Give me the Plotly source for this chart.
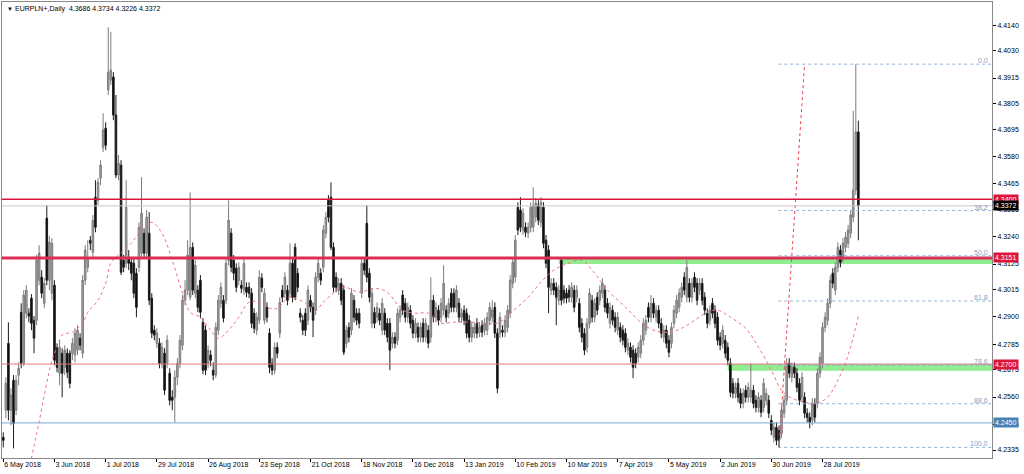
import plotly.graph_objects as go

# ---------------- data (EURPLN+, Daily) ----------------
opens = [4.2389,4.2504,4.2788,4.2504,4.2631,4.2504,4.2653,4.2920,4.2703,4.2916,
4.2916,4.2980,4.2886,4.2886,4.3056,4.3069,4.2958,4.3320,4.3056,4.3001,
4.3035,4.2771,4.2661,4.2746,4.2686,4.2746,4.2746,4.2746,4.2738,4.2759,
4.2810,4.2746,4.3056,4.3111,4.3226,4.3175,4.3409,4.3396,4.3490,4.3621,
4.3702,4.3864,4.3906,4.3919,4.3758,4.3503,4.3545,4.3141,4.3128,4.3150,
4.3132,4.3128,4.3086,4.3111,4.3171,4.3256,4.3171,4.3256,4.2980,4.2844,
4.2788,4.2788,4.2703,4.2746,4.2703,4.2661,4.2559,4.2559,4.2644,4.2703,
4.2780,4.2971,4.3014,4.2984,4.3196,4.3001,4.3014,4.3056,4.2877,4.2844,
4.2703,4.2738,4.2674,4.2653,4.2844,4.2958,4.2971,4.2971,4.3141,4.3256,
4.3141,4.3107,4.3056,4.3035,4.3014,4.3026,4.3026,4.3001,4.2916,4.2844,
4.2886,4.3065,4.2886,4.2941,4.2831,4.2703,4.2674,4.2771,4.2831,4.3014,
4.3001,4.3014,4.3001,4.3128,4.3196,4.3086,4.2916,4.2886,4.2916,4.2886,
4.2971,4.2941,4.2929,4.3069,4.3086,4.3111,4.3256,4.3396,4.3409,4.3196,
4.3069,4.3014,4.3043,4.3014,4.2788,4.2856,4.2844,4.2971,4.2916,4.2916,
4.3001,4.3128,4.3298,4.3086,4.2873,4.2920,4.2899,4.2916,4.2844,4.2916,
4.2873,4.2873,4.2788,4.2814,4.2801,4.2899,4.2993,4.2958,4.2899,4.2929,
4.2886,4.2831,4.2856,4.2814,4.2873,4.2814,4.2844,4.2814,4.2971,4.2899,
4.2929,4.2899,4.2929,4.2929,4.2916,4.3001,4.3001,4.2941,4.2958,4.2899,
4.2929,4.2916,4.2886,4.2814,4.2831,4.2873,4.2835,4.2865,4.2844,4.2844,
4.2886,4.2899,4.2941,4.2831,4.2831,4.2844,4.2835,4.2856,4.2916,4.3043,
4.3069,4.3366,4.3354,4.3269,4.3281,4.3256,4.3281,4.3281,4.3324,4.3375,
4.3302,4.3366,4.3226,4.3184,4.3014,4.3043,4.3026,4.2971,4.3141,4.3014,
4.3001,4.3014,4.2984,4.3014,4.2984,4.2958,4.2873,4.2831,4.2771,4.2873,
4.2971,4.2899,4.2984,4.2971,4.3001,4.3014,4.2958,4.2873,4.2929,4.2899,
4.2844,4.2856,4.2844,4.2831,4.2759,4.2771,4.2759,4.2746,4.2729,4.2746,
4.2801,4.2844,4.2941,4.2899,4.2958,4.2899,4.2929,4.2873,4.2814,4.2844,
4.2801,4.2788,4.2873,4.2916,4.2941,4.2984,4.3069,4.2984,4.3043,4.2984,
4.3069,4.3043,4.3014,4.3043,4.2984,4.2916,4.2886,4.2958,4.2929,4.2899,
4.2814,4.2788,4.2801,4.2771,4.2703,4.2618,4.2576,4.2618,4.2576,4.2533,
4.2589,4.2559,4.2559,4.2589,4.2546,4.2516,4.2546,4.2516,4.2546,4.2546,
4.2461,4.2389,4.2431,4.2419,4.2406,4.2491,4.2546,4.2703,4.2644,4.2686,
4.2661,4.2618,4.2559,4.2559,4.2491,4.2474,4.2461,4.2533,4.2533,4.2661,
4.2703,4.2856,4.2886,4.2958,4.3086,4.3014,4.3111,4.3184,4.3154,4.3196,
4.3213,4.3256,4.3324,4.3439,4.3686]

highs = [4.2410,4.2644,4.2877,4.2597,4.2653,4.2653,4.2707,4.2958,4.3014,4.3035,
4.2937,4.2997,4.2904,4.3163,4.3205,4.3099,4.3065,4.3375,4.3244,4.3235,
4.3056,4.2788,4.2801,4.2767,4.2780,4.2767,4.2759,4.2810,4.2852,4.2865,
4.2831,4.3078,4.3205,4.3226,4.3244,4.3333,4.3481,4.3490,4.3566,4.3766,
4.3727,4.4131,4.4110,4.3940,4.3843,4.3588,4.3566,4.3163,4.3481,4.3184,
4.3150,4.3150,4.3107,4.3302,4.3494,4.3277,4.3354,4.3345,4.3001,4.2865,
4.2852,4.2810,4.2792,4.2767,4.2823,4.2682,4.2589,4.2674,4.2725,4.2823,
4.2993,4.3056,4.3226,4.3430,4.3217,4.3141,4.3035,4.3078,4.2895,4.2865,
4.2780,4.2759,4.2707,4.2877,4.2993,4.3047,4.2993,4.3150,4.3396,4.3277,
4.3163,4.3128,4.3132,4.3056,4.3150,4.3047,4.3047,4.3022,4.2937,4.2920,
4.3099,4.3086,4.3022,4.2962,4.2852,4.2725,4.2792,4.2792,4.2984,4.3035,
4.3090,4.3035,4.3213,4.3150,4.3213,4.3107,4.2937,4.2908,4.2937,4.3035,
4.2993,4.2962,4.3090,4.3150,4.3107,4.3290,4.3345,4.3418,4.3472,4.3217,
4.3090,4.3065,4.3065,4.3035,4.2865,4.2877,4.3022,4.2993,4.2937,4.2937,
4.3150,4.3150,4.3375,4.3107,4.3022,4.2941,4.2962,4.2937,4.2980,4.2937,
4.2895,4.2895,4.2835,4.2835,4.2937,4.2950,4.3014,4.2980,4.2962,4.2950,
4.2908,4.2895,4.2877,4.2877,4.2895,4.2895,4.2865,4.3069,4.2993,4.2962,
4.2950,4.2980,4.3120,4.2950,4.2980,4.3022,4.3022,4.3035,4.2980,4.2937,
4.2950,4.2937,4.2908,4.2877,4.2877,4.2895,4.2877,4.2886,4.2895,4.2920,
4.2962,4.2971,4.2962,4.2852,4.2920,4.2865,4.2908,4.2950,4.3078,4.3154,
4.3248,4.3387,4.3409,4.3362,4.3302,4.3302,4.3387,4.3451,4.3405,4.3396,
4.3409,4.3387,4.3248,4.3205,4.3065,4.3065,4.3047,4.3035,4.3154,4.3035,
4.3022,4.3035,4.3047,4.3035,4.3035,4.2980,4.2895,4.2852,4.2895,4.3022,
4.2993,4.2980,4.3005,4.3035,4.3065,4.3035,4.2980,4.2962,4.2950,4.2920,
4.2920,4.2877,4.2865,4.2852,4.2810,4.2792,4.2780,4.2767,4.2792,4.2823,
4.2895,4.2908,4.2962,4.2993,4.2980,4.2950,4.2950,4.2895,4.2865,4.2865,
4.2823,4.2877,4.2950,4.2993,4.3022,4.3047,4.3090,4.3141,4.3065,4.3065,
4.3090,4.3065,4.3065,4.3065,4.3005,4.2937,4.2950,4.2980,4.2950,4.2920,
4.2835,4.2865,4.2823,4.2792,4.2725,4.2640,4.2622,4.2640,4.2597,4.2597,
4.2610,4.2622,4.2703,4.2610,4.2568,4.2580,4.2568,4.2640,4.2597,4.2568,
4.2483,4.2452,4.2452,4.2440,4.2525,4.2568,4.2725,4.2725,4.2707,4.2707,
4.2682,4.2640,4.2665,4.2580,4.2512,4.2495,4.2555,4.2555,4.2682,4.2750,
4.2877,4.2920,4.2980,4.3078,4.3107,4.3132,4.3217,4.3205,4.3235,4.3260,
4.3290,4.3354,4.3776,4.3974,4.3734]

lows = [4.2346,4.2470,4.2461,4.2440,4.2342,4.2483,4.2610,4.2682,4.2691,4.2895,
4.2877,4.2844,4.2746,4.2865,4.3035,4.2980,4.2937,4.3035,4.3014,4.2971,
4.2695,4.2665,4.2610,4.2559,4.2653,4.2640,4.2597,4.2716,4.2707,4.2738,
4.2759,4.2725,4.3035,4.3090,4.3184,4.3150,4.3260,4.3375,4.3460,4.3600,
4.3609,4.3843,4.3885,4.3736,4.3490,4.3481,4.3078,4.3090,4.3107,4.3099,
4.3056,4.2980,4.2899,4.3090,4.3150,4.3150,4.3150,4.2950,4.2810,4.2801,
4.2767,4.2682,4.2682,4.2568,4.2682,4.2525,4.2504,4.2452,4.2610,4.2682,
4.2759,4.2950,4.2993,4.2971,4.2993,4.2980,4.2920,4.2895,4.2657,4.2653,
4.2682,4.2691,4.2631,4.2640,4.2823,4.2937,4.2877,4.2954,4.3120,4.3090,
4.3056,4.3005,4.3035,4.3001,4.2993,4.2984,4.2980,4.2852,4.2831,4.2823,
4.2869,4.3005,4.2869,4.2877,4.2661,4.2653,4.2657,4.2725,4.2810,4.2962,
4.2980,4.2950,4.2984,4.2962,4.2971,4.3005,4.2877,4.2823,4.2819,4.2865,
4.2920,4.2814,4.2908,4.3047,4.3035,4.3090,4.3235,4.3302,4.3184,4.3005,
4.3005,4.2993,4.2950,4.2738,4.2767,4.2792,4.2823,4.2877,4.2865,4.2852,
4.2980,4.3078,4.3047,4.2962,4.2852,4.2852,4.2877,4.2865,4.2823,4.2823,
4.2792,4.2674,4.2767,4.2767,4.2780,4.2877,4.2908,4.2877,4.2877,4.2852,
4.2810,4.2810,4.2792,4.2792,4.2792,4.2792,4.2767,4.2792,4.2877,4.2877,
4.2865,4.2877,4.2908,4.2877,4.2895,4.2920,4.2920,4.2920,4.2877,4.2877,
4.2865,4.2810,4.2792,4.2792,4.2810,4.2810,4.2814,4.2814,4.2823,4.2823,
4.2865,4.2877,4.2810,4.2576,4.2810,4.2814,4.2814,4.2835,4.2895,4.3022,
4.3047,4.3248,4.3260,4.3248,4.3239,4.3235,4.3260,4.3260,4.3302,4.3290,
4.3281,4.3192,4.3107,4.2916,4.2993,4.2993,4.2865,4.2950,4.2950,4.2958,
4.2958,4.2962,4.2962,4.2920,4.2962,4.2835,4.2792,4.2738,4.2750,4.2852,
4.2877,4.2877,4.2908,4.2950,4.2980,4.2920,4.2895,4.2852,4.2865,4.2835,
4.2823,4.2792,4.2780,4.2750,4.2738,4.2707,4.2640,4.2682,4.2707,4.2725,
4.2780,4.2823,4.2877,4.2877,4.2895,4.2877,4.2852,4.2810,4.2792,4.2767,
4.2729,4.2767,4.2852,4.2895,4.2920,4.2962,4.2993,4.2962,4.2962,4.2962,
4.3005,4.2950,4.2993,4.2950,4.2908,4.2852,4.2865,4.2895,4.2852,4.2780,
4.2759,4.2767,4.2725,4.2695,4.2559,4.2555,4.2555,4.2537,4.2512,4.2512,
4.2537,4.2537,4.2537,4.2512,4.2495,4.2495,4.2474,4.2495,4.2525,4.2470,
4.2398,4.2367,4.2355,4.2346,4.2385,4.2470,4.2525,4.2640,4.2622,4.2640,
4.2580,4.2525,4.2537,4.2470,4.2452,4.2427,4.2440,4.2452,4.2512,4.2640,
4.2682,4.2835,4.2865,4.2937,4.3022,4.2993,4.3090,4.3111,4.3132,4.3175,
4.3192,4.3235,4.3302,4.3418,4.3226]

closes = [4.2376,4.2618,4.2504,4.2568,4.2448,4.2631,4.2682,4.2703,4.2993,4.3014,
4.2904,4.2873,4.2810,4.3141,4.3171,4.3001,4.3043,4.3056,4.3217,4.3213,
4.2716,4.2686,4.2771,4.2661,4.2759,4.2665,4.2618,4.2788,4.2831,4.2844,
4.2780,4.3056,4.3184,4.3150,4.3213,4.3311,4.3281,4.3472,4.3545,4.3694,
4.3630,4.3940,4.3949,4.3758,4.3503,4.3553,4.3090,4.3111,4.3366,4.3128,
4.3086,4.3001,4.2941,4.3281,4.3341,4.3171,4.3324,4.2971,4.2831,4.2823,
4.2831,4.2703,4.2771,4.2589,4.2801,4.2546,4.2546,4.2644,4.2703,4.2801,
4.2971,4.3014,4.3163,4.3196,4.3014,4.3120,4.2941,4.2920,4.2674,4.2674,
4.2759,4.2716,4.2653,4.2856,4.2971,4.3026,4.2895,4.3128,4.3311,4.3111,
4.3086,4.3026,4.3111,4.3022,4.3128,4.3005,4.3001,4.2873,4.2852,4.2899,
4.3069,4.3026,4.3001,4.2899,4.2686,4.2674,4.2771,4.2746,4.2962,4.2984,
4.3069,4.2971,4.3128,4.2984,4.2984,4.3026,4.2899,4.2844,4.2844,4.3014,
4.2941,4.2886,4.3069,4.3128,4.3056,4.3269,4.3324,4.3324,4.3196,4.3026,
4.3026,4.3043,4.2971,4.2750,4.2844,4.2814,4.3001,4.2899,4.2886,4.2873,
4.3128,4.3099,4.3069,4.2984,4.3001,4.2873,4.2941,4.2886,4.2958,4.2844,
4.2814,4.2759,4.2814,4.2788,4.2916,4.2929,4.2929,4.2899,4.2941,4.2873,
4.2831,4.2873,4.2814,4.2856,4.2814,4.2873,4.2788,4.2971,4.2899,4.2941,
4.2886,4.2958,4.3043,4.2899,4.2958,4.2941,4.2941,4.3014,4.2899,4.2916,
4.2886,4.2831,4.2814,4.2856,4.2856,4.2831,4.2856,4.2835,4.2873,4.2899,
4.2941,4.2929,4.2831,4.2597,4.2899,4.2835,4.2886,4.2929,4.3056,4.3132,
4.3226,4.3269,4.3281,4.3341,4.3260,4.3281,4.3366,4.3375,4.3383,4.3311,
4.3387,4.3213,4.3128,4.3026,4.3043,4.3014,4.2984,4.3014,4.2971,4.2980,
4.2980,4.2984,4.3026,4.2941,4.3014,4.2856,4.2814,4.2759,4.2873,4.3001,
4.2899,4.2958,4.2929,4.3014,4.3043,4.2941,4.2916,4.2941,4.2886,4.2856,
4.2899,4.2814,4.2801,4.2771,4.2788,4.2729,4.2686,4.2703,4.2771,4.2801,
4.2873,4.2886,4.2899,4.2958,4.2916,4.2929,4.2873,4.2831,4.2844,4.2788,
4.2750,4.2856,4.2929,4.2971,4.3001,4.3026,4.3014,4.3111,4.2984,4.3043,
4.3026,4.2971,4.3043,4.2971,4.2929,4.2873,4.2929,4.2916,4.2873,4.2801,
4.2780,4.2844,4.2746,4.2716,4.2580,4.2576,4.2601,4.2559,4.2533,4.2576,
4.2559,4.2601,4.2589,4.2533,4.2516,4.2559,4.2495,4.2618,4.2576,4.2491,
4.2419,4.2431,4.2376,4.2376,4.2504,4.2546,4.2703,4.2661,4.2686,4.2661,
4.2601,4.2546,4.2644,4.2491,4.2474,4.2452,4.2533,4.2474,4.2661,4.2729,
4.2856,4.2899,4.2958,4.3056,4.3043,4.3111,4.3196,4.3132,4.3213,4.3239,
4.3269,4.3333,4.3439,4.3686,4.3372]

bars = list(range(len(closes)))

# dotted moving-average curve (bar, value)
ma_bar = [10,14,19,21,23,25,27,31,33,37,40,42,45,50,54,58,62,66,70,73,
          77,81,84,88,92,96,100,104,107,111,114,118,122,125,129,133,139,145,150,156,
          161,166,171,176,184,193,198,205,210,215,221,226,231,236,243,249,254,260,265,270,
          275,279,284,290,295,300,304,308,313,318,322,326,330,334]
ma_val = [4.2249,4.2455,4.2716,4.2772,4.2823,4.2831,4.2835,4.2874,4.2920,4.2971,
          4.3044,4.3129,4.3163,4.3214,4.3269,4.3302,4.3256,4.3141,4.3001,4.2920,
          4.2899,4.2844,4.2810,4.2844,4.2899,4.2963,4.2963,4.2937,4.2937,4.2980,
          4.2980,4.2959,4.2929,4.2963,4.3001,4.3027,4.3005,4.3022,4.3005,4.2929,
          4.2916,4.2916,4.2874,4.2878,4.2878,4.2874,4.2916,4.2984,4.3048,4.3099,
          4.3129,4.3141,4.3086,4.3014,4.2942,4.2878,4.2844,4.2835,4.2852,4.2886,
          4.2920,4.2929,4.2899,4.2852,4.2772,4.2674,4.2589,4.2555,4.2538,4.2534,
          4.2559,4.2631,4.2738,4.2903]

date_ticks = [0,20,40,60,80,100,120,140,160,180,200,220,240,260,280,300,320]
date_labels = ["6 May 2018","3 Jun 2018","1 Jul 2018","29 Jul 2018","26 Aug 2018",
               "23 Sep 2018","21 Oct 2018","18 Nov 2018","16 Dec 2018","13 Jan 2019",
               "10 Feb 2019","10 Mar 2019","7 Apr 2019","5 May 2019","2 Jun 2019",
               "30 Jun 2019","28 Jul 2019"]
price_ticks = [4.4140,4.4030,4.3915,4.3805,4.3695,4.3580,4.3465,4.3355,4.3240,
               4.3125,4.3015,4.2900,4.2785,4.2675,4.2560,4.2445,4.2335]

resistance_hi = 4.3400
resistance_mid = 4.3151
support_lo = 4.2700
support_blue = 4.2450
bid_price = 4.3372
zones = [(217, 4.3125, 4.3151), (283, 4.2672, 4.2700)]

fib_low, fib_low_bar = 4.2346, 303
fib_high, fib_high_bar = 4.3974, 313
fib_levels = [0.0, 38.2, 50.0, 61.8, 78.6, 88.6, 100.0]

title_text = "EURPLN+,Daily\u00a0\u00a04.3686 4.3734 4.3226 4.3372"

# ---------------- figure ----------------
X_MIN, X_MAX = -0.5, 386.2
Y_MIN, Y_MAX = 4.2301, 4.4238
FONT = "Liberation Sans"

fig = go.Figure()

fig.add_trace(go.Candlestick(
    x=bars, open=opens, high=highs, low=lows, close=closes,
    increasing=dict(line=dict(color="#7c7c7c", width=1), fillcolor="#a4a4a4"),
    decreasing=dict(line=dict(color="#1c1c1c", width=1), fillcolor="#0a0a0a"),
    whiskerwidth=0, showlegend=False, hoverinfo="skip"))

fig.add_trace(go.Scatter(
    x=ma_bar, y=ma_val, mode="lines", line=dict(color="#f07080", width=1, dash="dot", shape="spline"),
    showlegend=False, hoverinfo="skip"))

fig.add_trace(go.Scatter(
    x=[fib_low_bar, fib_high_bar], y=[fib_low, fib_high], mode="lines",
    line=dict(color="#f04050", width=1, dash="dot"), showlegend=False, hoverinfo="skip"))

shapes = []
for start, y0, y1 in zones:
    shapes.append(dict(type="rect", xref="x", yref="y", x0=start, x1=X_MAX, y0=y0, y1=y1,
                       fillcolor="#90ee90", line=dict(width=0), layer="below"))
shapes += [
    dict(type="line", xref="paper", yref="y", x0=0, x1=1, y0=bid_price, y1=bid_price,
         line=dict(color="#c8c8c8", width=1)),
    dict(type="line", xref="paper", yref="y", x0=0, x1=1, y0=resistance_hi, y1=resistance_hi,
         line=dict(color="#dc143c", width=1.5)),
    dict(type="line", xref="paper", yref="y", x0=0, x1=1, y0=resistance_mid, y1=resistance_mid,
         line=dict(color="#dc2f55", width=3)),
    dict(type="line", xref="paper", yref="y", x0=0, x1=1, y0=support_lo, y1=support_lo,
         line=dict(color="#e07585", width=1)),
    dict(type="line", xref="paper", yref="y", x0=0, x1=1, y0=support_blue, y1=support_blue,
         line=dict(color="#7aa8d0", width=1)),
]
annotations = []
for lv in fib_levels:
    price = fib_high - (fib_high - fib_low) * lv / 100.0
    shapes.append(dict(type="line", xref="x", yref="y", x0=fib_low_bar - 0.3, x1=X_MAX,
                       y0=price, y1=price, line=dict(color="#8fb3d6", width=1, dash="dot")))
    annotations.append(dict(xref="paper", yref="y", x=1, y=price, xanchor="right", yanchor="bottom",
                            text=f"{lv:.1f}", showarrow=False, xshift=-2, yshift=-2,
                            font=dict(family=FONT, size=7, color="#7f9fc4")))

for price, bg in [(resistance_hi, "#dc143c"), (bid_price, "#000000"), (resistance_mid, "#dc143c"),
                  (support_lo, "#dc143c"), (support_blue, "#4682b4")]:
    annotations.append(dict(xref="paper", yref="y", x=1, y=price, xanchor="left", yanchor="middle",
                            text=f"{price:.4f}", showarrow=False, bgcolor=bg, borderpad=1,
                            xshift=1, font=dict(family=FONT, size=7, color="#ffffff")))

annotations.append(dict(xref="paper", yref="paper", x=0, y=1, xanchor="left", yanchor="top",
                        text="\u25bc", showarrow=False, xshift=3, yshift=-2,
                        font=dict(family=FONT, size=6, color="#000000")))
annotations.append(dict(xref="paper", yref="paper", x=0, y=1, xanchor="left", yanchor="top",
                        text=title_text, showarrow=False, xshift=11, yshift=-1,
                        font=dict(family=FONT, size=7, color="#000000")))

fig.update_layout(
    width=1024, height=474, autosize=False,
    margin=dict(l=2, r=32, t=2, b=16),
    paper_bgcolor="#ffffff", plot_bgcolor="#ffffff",
    font=dict(family=FONT, size=7, color="#000000"),
    shapes=shapes, annotations=annotations, showlegend=False, boxgap=0.12,
    xaxis=dict(range=[X_MIN, X_MAX], rangeslider=dict(visible=False), showgrid=False, zeroline=False,
               tickvals=date_ticks, ticktext=date_labels, ticks="outside", ticklen=3, tickcolor="#000000",
               ticklabelposition="outside right", tickfont=dict(family=FONT, size=7, color="#000000"),
               showline=True, linecolor="#888888", linewidth=1, mirror=True, fixedrange=True),
    yaxis=dict(range=[Y_MIN, Y_MAX], side="right", showgrid=False, zeroline=False,
               tickvals=price_ticks, ticktext=[f"{v:.4f}" for v in price_ticks],
               ticks="outside", ticklen=3, tickcolor="#000000",
               tickfont=dict(family=FONT, size=7, color="#000000"),
               showline=True, linecolor="#888888", linewidth=1, mirror=True, fixedrange=True),
)

fig.write_html("out.html", config={"displayModeBar": False},
               post_script="document.body.style.margin='0';document.body.style.overflow='hidden';")
